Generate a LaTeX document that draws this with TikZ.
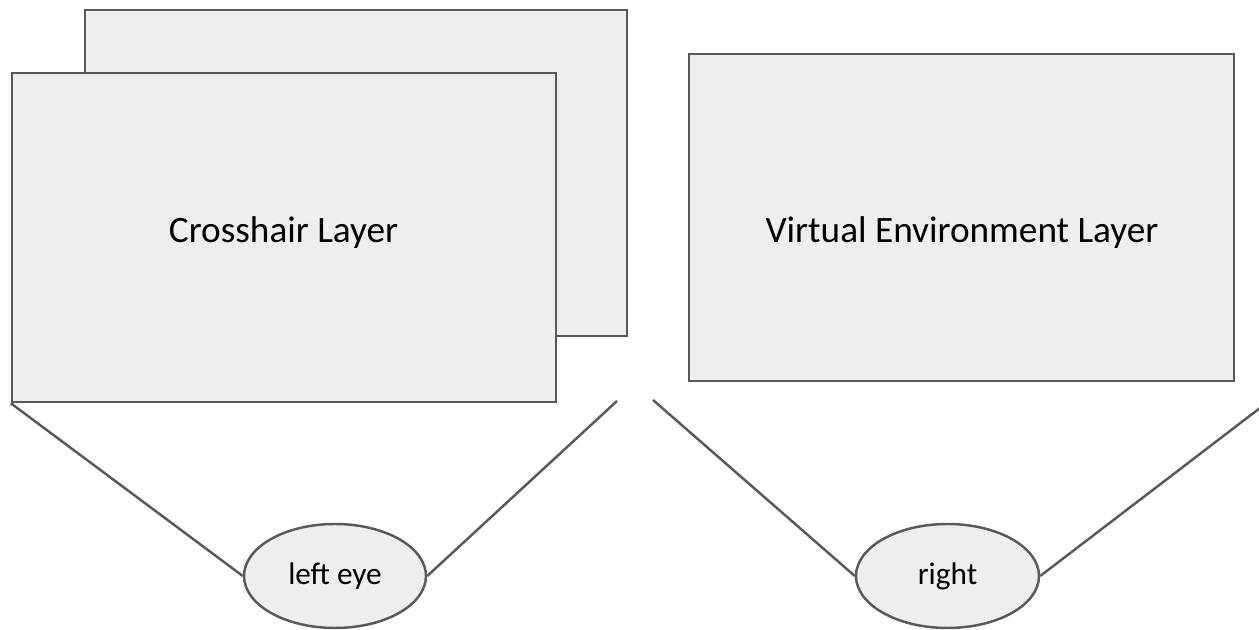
\documentclass[tikz,border=0pt]{standalone}
\usepackage{fontspec}
\setmainfont{Carlito}
\usetikzlibrary{shapes.geometric}
\definecolor{edgegray}{HTML}{595959}
\definecolor{boxfill}{HTML}{EEEEEE}
\tikzset{
  layer/.style={draw=edgegray, line width=0.7pt, fill=boxfill, rectangle, inner sep=0pt},
  eye/.style={draw=edgegray, line width=0.7pt, fill=boxfill, ellipse, inner sep=0pt,
    minimum width=1.82cm, minimum height=1.04cm, font=\fontsize{8.9}{10}\selectfont},
  sight/.style={edgegray, line width=0.7pt},
  layertext/.style={anchor=base, font=\fontsize{10.6}{12}\selectfont}
}
\begin{document}
\begin{tikzpicture}
\useasboundingbox (0,0) rectangle (12.59,6.30);
\node[layer, minimum width=5.42cm, minimum height=3.26cm] (back) at (3.56,4.57) {};
\node[layer, minimum width=5.44cm, minimum height=3.29cm] (front) at (2.84,3.925) {};
\node[layertext] (crosstext) at (2.835,3.87) {Crosshair Layer};
\node[layer, minimum width=5.45cm, minimum height=3.27cm] (virtual) at (9.615,4.125) {};
\node[layertext] (virtualtext) at (9.62,3.87) {Virtual Environment Layer};
\node[eye] (lefteye) at (3.35,0.54) {left eye};
\node[eye, minimum width=1.83cm] (righteye) at (9.475,0.54) {right};
\coordinate (leftend) at (6.17,2.29);
\coordinate (rightstart) at (6.53,2.30);
\coordinate (rightend) at (12.60,2.22);
\draw[sight] (front.south west) -- (lefteye.west);
\draw[sight] (leftend) -- (lefteye.east);
\draw[sight] (rightstart) -- (righteye.west);
\draw[sight] (rightend) -- (righteye.east);
\end{tikzpicture}
\end{document}
